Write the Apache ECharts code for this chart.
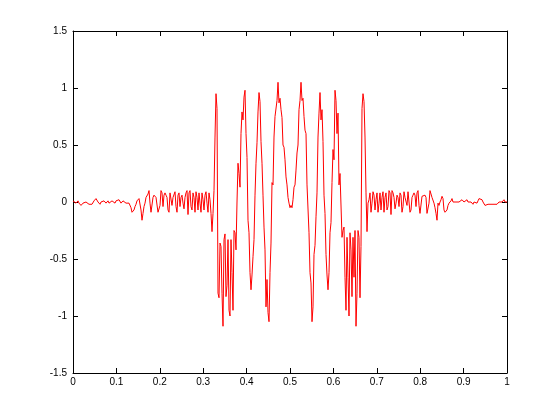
<!DOCTYPE html>
<html>
<head>
<meta charset="utf-8">
<script src="https://cdn.jsdelivr.net/npm/echarts@6.0.0/dist/echarts.min.js"></script>
<style>
  html, body { margin: 0; padding: 0; background: #fff; }
  #chart { width: 560px; height: 419px; }
</style>
</head>
<body>
<div id="chart"></div>
<script>
// signal, one sample per pixel column (x from 0 to 1)
const quietLeft = [
  0.01, 0.02, 0.0, -0.01, 0.0, 0.01, -0.01, -0.02, -0.03, -0.02,
  -0.01, -0.01, -0.02, 0.0, 0.01, -0.01, -0.02, -0.02, -0.03, -0.02,
  -0.01, 0.01, 0.02, 0.03, 0.02, 0.0, -0.01, -0.02, 0.0, -0.01,
  0.0, 0.01, 0.0, -0.01, 0.0, 0.01, -0.01, -0.02, 0.0, 0.01,
  0.02, 0.0, -0.01, 0.01, 0.0, 0.01, 0.02, 0.01, -0.01, 0.0,
  0.01, 0.0, 0.0, -0.01, -0.01, 0.0, -0.01, -0.02, -0.05, -0.09,
  -0.1, -0.07, -0.04, -0.02, 0.01, 0.02, 0.03, 0.04
];
const ripplesLeft = [
  -0.07, -0.16, -0.1, -0.04, -0.01, 0.04, 0.04, 0.07, 0.1, -0.01,
  -0.09, -0.1, 0.04, 0.06, 0.05, 0.04, 0.05, -0.09, -0.1, -0.03,
  0.1, 0.08, -0.04, 0.06, 0.08, 0.06, 0.04, -0.07, -0.09, 0.08,
  0.09, -0.03, 0.04, 0.04, 0.09, -0.04, -0.09, 0.06, 0.08, -0.04,
  0.04, 0.06, -0.01, -0.06, 0.04, 0.08, 0.1, -0.11, 0.08, 0.1,
  -0.04, -0.07, 0.08, 0.04, -0.09, 0.09, 0.04, -0.07, 0.08, -0.01,
  -0.09, 0.08, 0.02, -0.07, 0.06, 0.09, -0.01, -0.09, 0.08, 0.02,
  -0.1, -0.26, -0.1, 0.1
];
const burst = [
  0.57, 0.95, 0.82, -0.8, -0.84, -0.36, -0.39, -0.8, -1.09, -0.33,
  -0.28, -0.83, -0.73, -0.33, -0.95, -1.0, -0.33, -0.62, -0.95, -0.25,
  -0.27, -0.42, 0.0, 0.34, 0.25, 0.13, 0.6, 0.79, 0.72, 0.92,
  0.98, 0.6, 0.39, -0.16, -0.27, -0.62, -0.77, -0.64, -0.48, -0.33,
  0.06, 0.34, 0.52, 0.79, 0.96, 0.88, 0.53, 0.34, 0.06, -0.22,
  -0.42, -0.92, -0.68, -0.97, -1.05, -0.62, -0.36, 0.17, 0.15, 0.57,
  0.75, 0.74, 0.89, 1.05, 0.87, 0.91, 0.81, 0.74, 0.5, 0.48,
  0.37, 0.22, 0.15, 0.04, -0.01, -0.05, -0.03, -0.05, 0.02, 0.13,
  0.15, 0.28, 0.43, 0.5, 0.81, 0.89, 1.05, 0.89, 0.91, 0.75,
  0.63, 0.6, 0.15, 0.15, -0.27, -0.62, -0.71, -1.05, -0.92, -0.46,
  -0.38, -0.13, 0.08, 0.57, 0.78, 0.96, 0.72, 0.81, 0.53, 0.06,
  -0.1, -0.46, -0.64, -0.77, -0.62, -0.27, -0.18, 0.17, 0.46, 0.37,
  0.98, 0.89, 0.6, 0.78, 0.15, 0.25, 0.25, -0.31, -0.25, -0.22,
  -0.66, -0.95, -0.31, -0.66, -1.0, -0.27, -0.42, -0.83, -0.31, -0.66,
  -0.25, -1.09, -0.8, -0.25, -0.31, -0.84, -0.39, 0.82, 0.95, 0.88,
  0.57, 0.08, -0.26, -0.01
];
const ripplesRight = [
  0.02, 0.08, -0.09, -0.01, 0.09, 0.06, -0.07, 0.02, 0.08, -0.09,
  -0.01, 0.08, -0.07, 0.04, 0.09, -0.09, 0.04, 0.08, -0.07, -0.04,
  0.1, 0.08, -0.11, 0.1, 0.08, 0.04, -0.06, -0.01, 0.06, 0.04,
  -0.04, 0.08, 0.06, -0.09, -0.04, 0.09, 0.04, 0.04, -0.03, 0.09,
  0.08, -0.09, -0.07, 0.04, 0.06, 0.08, 0.06, -0.04, 0.08, 0.1,
  -0.03, -0.1, -0.09, 0.05, 0.04, 0.05, 0.06, 0.04, -0.1, -0.09,
  -0.01, 0.1, 0.07, 0.04, 0.04, -0.01
];
const quietRight = [
  -0.05, -0.1, -0.16, -0.01, -0.03, 0.0, 0.02, 0.05, 0.03, -0.07,
  -0.09, -0.1, -0.07, -0.03, -0.01, -0.02, 0.01, 0.03, 0.0, 0.01,
  0.01, 0.0, -0.01, 0.01, 0.0, -0.01, 0.01, 0.02, 0.01, 0.0,
  -0.01, 0.01, 0.02, 0.0, -0.01, -0.01, 0.0, 0.0, -0.02, 0.0,
  0.01, 0.0, -0.01, 0.01, 0.03, 0.02, 0.03, 0.02, 0.0, -0.01,
  -0.03, -0.03, -0.02, -0.02, -0.01, -0.01, -0.02, -0.01, -0.03, -0.02,
  -0.01, -0.02, -0.02, -0.01, 0.0, -0.01, -0.01, 0.0, 0.01, 0.02,
  0.0, 0.01, 0.0
];

const xMin = 0, xMax = 1, xStep = 0.1;
const yMin = -1.5, yMax = 1.5, yStep = 0.5;

const signal = [].concat(quietLeft, ripplesLeft, burst, ripplesRight, quietRight);
const last = signal.length - 1;
const points = signal.map((v, i) => [xMin + (xMax - xMin) * i / last, v]);

const chart = echarts.init(document.getElementById('chart'), null, { renderer: 'canvas' });

const font = '"Liberation Sans", Arial, Helvetica, sans-serif';
const lineStyle = { color: '#000', width: 1 };
const tick = { show: true, inside: true, length: 5, lineStyle: lineStyle };

function xAx(pos, labels) {
  return {
    type: 'value', position: pos, min: xMin, max: xMax, interval: xStep,
    axisLine: { show: true, onZero: false, lineStyle: lineStyle },
    axisTick: tick,
    splitLine: { show: false },
    axisLabel: { show: labels, color: '#000', fontFamily: font, fontSize: 10, margin: 4 }
  };
}
function yAx(pos, labels) {
  return {
    type: 'value', position: pos, min: yMin, max: yMax, interval: yStep,
    axisLine: { show: true, onZero: false, lineStyle: lineStyle },
    axisTick: tick,
    splitLine: { show: false },
    axisLabel: { show: labels, color: '#000', fontFamily: font, fontSize: 10, margin: 6 }
  };
}

chart.setOption({
  backgroundColor: '#fff',
  animation: false,
  grid: { left: 73, right: 53, top: 31, bottom: 46, containLabel: false },
  xAxis: [xAx('bottom', true), xAx('top', false)],
  yAxis: [yAx('left', true), yAx('right', false)],
  series: [{
    type: 'line',
    xAxisIndex: 0,
    yAxisIndex: 0,
    data: points,
    showSymbol: false,
    symbol: 'none',
    sampling: null,
    lineStyle: { color: '#ff0000', width: 1 }
  }]
});
</script>
</body>
</html>
